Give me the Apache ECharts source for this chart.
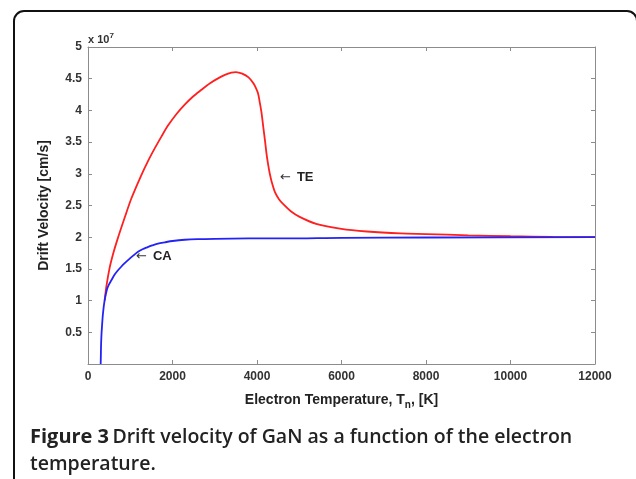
<!DOCTYPE html>
<html>
<head>
<meta charset="utf-8">
<script src="https://cdn.jsdelivr.net/npm/echarts@6/dist/echarts.min.js"></script>
<style>
  html, body { margin: 0; padding: 0; background: #fff; }
  #chart { width: 636px; height: 479px; }
</style>
</head>
<body>
<div id="chart"></div>
<script>
// electron temperature [K] and drift velocity [x 10^7 cm/s]
var teTemp = [395, 434, 513, 600, 690, 869, 1026, 1263, 1420, 1579, 1740, 1893, 2090, 2289, 2480, 2684, 2880, 3077, 3240, 3394, 3500, 3650, 3800, 3912, 3970, 4024, 4070, 4110, 4148, 4190, 4225, 4265, 4303, 4345, 4425, 4520, 4622, 4800, 5010, 5400, 6000, 6600, 7400, 8000, 9000, 10000, 11000, 12000];
var teVel  = [1.0, 1.22, 1.52, 1.75, 1.95, 2.31, 2.61, 2.98, 3.20, 3.40, 3.59, 3.76, 3.94, 4.09, 4.215, 4.325, 4.425, 4.505, 4.56, 4.595, 4.605, 4.58, 4.52, 4.43, 4.36, 4.27, 4.11, 3.95, 3.74, 3.52, 3.32, 3.14, 3.00, 2.88, 2.71, 2.60, 2.52, 2.41, 2.32, 2.21, 2.13, 2.09, 2.06, 2.05, 2.03, 2.015, 2.005, 2.0];

var caTemp = [300, 304, 308, 318, 331, 355, 395, 450, 500, 553, 620, 700, 780, 869, 1000, 1090, 1184, 1290, 1400, 1520, 1657, 1820, 2000, 2289, 2600, 3000, 3800, 4656, 6000, 8000, 12000];
var caVel  = [0, 0.12, 0.27, 0.45, 0.59, 0.80, 1.01, 1.18, 1.26, 1.32, 1.40, 1.47, 1.53, 1.59, 1.67, 1.72, 1.77, 1.81, 1.84, 1.87, 1.90, 1.92, 1.94, 1.96, 1.97, 1.975, 1.98, 1.98, 1.99, 1.995, 2.0];

var xTicks = [0, 2000, 4000, 6000, 8000, 10000, 12000];
var yTicks = [0.5, 1, 1.5, 2, 2.5, 3, 3.5, 4, 4.5, 5];

function zip(a, b) {
  return a.map(function (v, i) { return [v, b[i]]; });
}

var chart = echarts.init(document.getElementById('chart'));

var axisGrey = '#8c8c8c';
var arial = 'Liberation Sans, Arial, sans-serif';
var tickFont = { color: '#333', fontSize: 12, fontWeight: 'bold', fontFamily: arial };

function frameAxis(pos) {
  return {
    type: 'value', position: pos,
    axisLine: { show: true, onZero: false, lineStyle: { color: axisGrey, width: 1 } },
    axisTick: { show: true, inside: true, length: 4, lineStyle: { color: axisGrey } },
    axisLabel: { show: false },
    splitLine: { show: false }
  };
}

var xTop = Object.assign(frameAxis('top'), { min: 0, max: 12000, interval: 2000 });
var yRight = Object.assign(frameAxis('right'), { min: 0, max: 5, interval: 0.5 });

var option = {
  animation: false,
  grid: { left: 88, top: 47, right: 41, bottom: 115, containLabel: false },
  xAxis: [
    {
      type: 'value', min: 0, max: 12000, interval: 2000,
      name: 'Electron Temperature, T{sub|n}, [K]',
      nameLocation: 'middle', nameGap: 26,
      nameTextStyle: {
        color: '#222', fontSize: 14, fontWeight: 'bold', fontFamily: arial,
        rich: { sub: { fontSize: 10, fontWeight: 'bold', color: '#222', fontFamily: arial, verticalAlign: 'bottom', padding: [10, 0, 0, 0] } }
      },
      axisLine: { show: true, onZero: false, lineStyle: { color: axisGrey, width: 1 } },
      axisTick: { show: true, inside: true, length: 4, lineStyle: { color: axisGrey } },
      axisLabel: Object.assign({ margin: 7, formatter: function (v) { return xTicks.indexOf(v) >= 0 ? v : ''; } }, tickFont),
      splitLine: { show: false }
    },
    xTop
  ],
  yAxis: [
    {
      type: 'value', min: 0, max: 5, interval: 0.5,
      name: 'Drift Velocity [cm/s]',
      nameLocation: 'middle', nameGap: 37,
      nameTextStyle: { color: '#222', fontSize: 14, fontWeight: 'bold', fontFamily: arial },
      axisLine: { show: true, onZero: false, lineStyle: { color: axisGrey, width: 1 } },
      axisTick: { show: true, inside: true, length: 4, lineStyle: { color: axisGrey } },
      axisLabel: Object.assign({ margin: 6, formatter: function (v) { return yTicks.indexOf(v) >= 0 ? v : ''; } }, tickFont),
      splitLine: { show: false }
    },
    yRight
  ],
  series: [
    {
      name: 'TE', type: 'line', data: zip(teTemp, teVel),
      smooth: 0.3, showSymbol: false, symbol: 'none',
      lineStyle: { color: '#ff1f1f', width: 1.8 }, z: 2
    },
    {
      name: 'CA', type: 'line', data: zip(caTemp, caVel),
      smooth: 0.3, showSymbol: false, symbol: 'none',
      lineStyle: { color: '#2323f5', width: 1.8 }, z: 3
    }
  ],
  graphic: [
    // rounded frame round the figure
    { type: 'rect', shape: { x: 14, y: 11, width: 623, height: 520, r: 10 },
      style: { fill: null, stroke: '#111', lineWidth: 2 }, silent: true },
    { type: 'text', left: 88, top: 32,
      style: { text: 'x 10{sup|7}', fill: '#333', font: 'bold 11px ' + arial,
        rich: { sup: { fontSize: 8, fontWeight: 'bold', fill: '#333', fontFamily: arial, padding: [0, 0, 7, 0] } } } },
    { type: 'text', left: 280, top: 171,
      style: { text: '{a|\u2190}{t|TE}',
        rich: {
          a: { fontFamily: 'DejaVu Sans', fontSize: 13, fill: '#333' },
          t: { fontFamily: arial, fontWeight: 'bold', fontSize: 13, fill: '#222', padding: [0, 0, 0, 6] }
        } } },
    { type: 'text', left: 136, top: 250,
      style: { text: '{a|\u2190}{t|CA}',
        rich: {
          a: { fontFamily: 'DejaVu Sans', fontSize: 13, fill: '#333' },
          t: { fontFamily: arial, fontWeight: 'bold', fontSize: 13, fill: '#222', padding: [0, 0, 0, 6] }
        } } },
    { type: 'text', left: 30, top: 427,
      style: { text: '{b|Figure 3} {s|Drift velocity of GaN as a function of the electron}', fill: '#222',
        rich: {
          b: { fontFamily: 'Open Sans', fontWeight: 'bold', fontSize: 20, fill: '#222' },
          s: { fontFamily: 'Open Sans', fontWeight: 600, fontSize: 19.5, fill: '#222' }
        } } },
    { type: 'text', left: 30, top: 454,
      style: { text: 'temperature.', fill: '#222', font: '600 19.5px Open Sans' } }
  ]
};

chart.setOption(option);
</script>
</body>
</html>
